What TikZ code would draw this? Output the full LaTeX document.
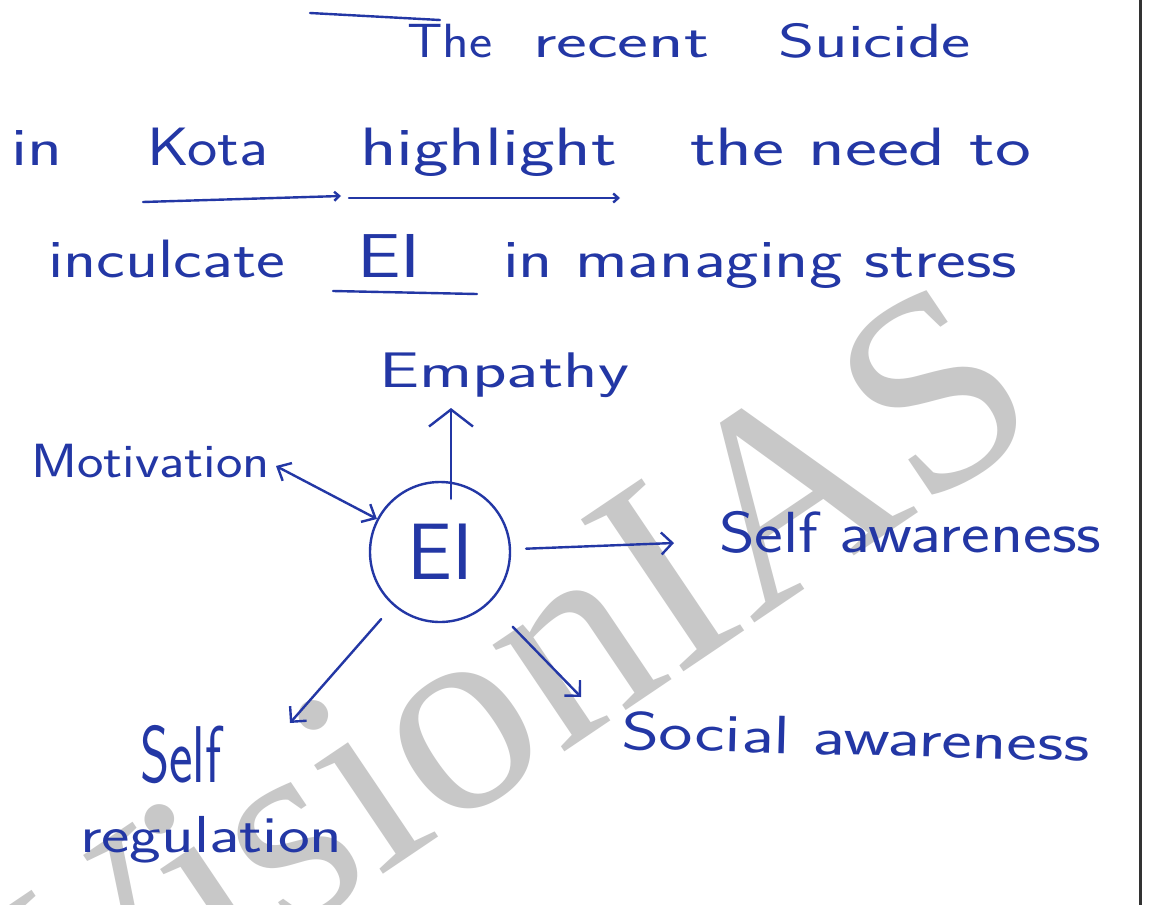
\documentclass[tikz,border=0pt]{standalone}
\usepackage{fontspec}
\usepackage{graphicx}
\usetikzlibrary{arrows.meta,calc}
\newfontfamily\wmfont{Liberation Serif}
\definecolor{ink}{RGB}{35,55,165}
\definecolor{wmgray}{RGB}{200,200,200}
\newcommand{\hw}[4]{{\fontsize{#1}{#1}\selectfont\scalebox{#2}[#3]{#4}}}
\begin{document}
\begin{tikzpicture}[x=1pt,y=-1pt,
  hand/.style={inner sep=0pt, outer sep=0pt, text=ink, font=\sffamily, anchor=base west},
  ink line/.style={draw=ink, line width=2.4pt, line cap=round},
  arr/.style={ink line, -{Straight Barb[length=11pt,width=22pt]}},
  small tip/.style={ink line, -{Straight Barb[length=5pt,width=9pt]}},
]
\fill[white] (0,0) rectangle (1149,905);
\useasboundingbox (0,0) rectangle (1149,905);

% watermark
\node[text=wmgray, font=\wmfont\fontsize{280}{280}\selectfont, rotate=34, anchor=base, inner sep=0pt] (wm) at (560,755) {VisionIAS};

% heading text
\draw[ink line] (310,13) -- (440,20);
\node[hand] (w1) at (407,57) {\hw{48}{1.15}{1}{The}};
\node[hand] (w2) at (533,57) {\hw{48}{1.53}{1}{recent}};
\node[hand] (w3) at (778,57) {\hw{48}{1.45}{1}{Suicide}};

\node[hand] (in1) at (11,165) {\hw{54}{1.34}{1}{in}};
\node[hand] (kota) at (147,165) {\hw{54}{1.19}{1}{Kota}};
\node[hand] (high) at (360,165) {\hw{54}{1.4}{1}{highlight}};
\node[hand] (need) at (690,165) {\hw{54}{1.41}{1}{the need to}};
\draw[small tip] (143,202) -- (341,196);
\draw[small tip] (349,198) -- (620,198);

\node[hand] (incul) at (48,277) {\hw{54}{1.27}{1}{inculcate}};
\node[hand] (eiword) at (357,277) {\hw{62}{1.25}{1}{EI}};
\node[hand] (manage) at (503,277) {\hw{54}{1.31}{1}{in managing stress}};
\draw[ink line] (333,291) -- (477,294);

% diagram
\node[draw=ink, line width=2.4pt, circle, minimum size=140pt, inner sep=0pt, text=ink,
      font=\sffamily\fontsize{80}{80}\selectfont] (ei) at (440,552) {EI};
\node[hand] (emp) at (379,387) {\hw{50}{1.43}{1}{Empathy}};
\node[hand] (mot) at (31,477) {\hw{48}{1.17}{1}{Motivation}};
\node[hand] (saw) at (719,552) {\hw{58}{1.18}{1}{Self awareness}};
\node[hand, rotate=-1.5] (soc) at (621,749) {\hw{54}{1.34}{1}{Social awareness}};
\node[hand] (self) at (140,782) {\hw{70}{0.8}{1.15}{Self}};
\node[hand] (reg) at (80,852) {\hw{52}{1.3}{1}{regulation}};

\coordinate (emtip) at (451,408);
\coordinate (mottip) at (276,466);
\coordinate (awtip) at (674,543);
\coordinate (satip) at (581,697);
\coordinate (srtip) at (290,723);

\draw[ink line, -{Straight Barb[length=17pt,width=44pt]}] ([xshift=11pt,yshift=-18pt]ei.north) -- (emtip);
\draw[ink line, {Straight Barb[length=11pt,width=20pt]}-{Straight Barb[length=11pt,width=20pt]}] (mottip) -- (ei);
\draw[arr, shorten <=15pt] (ei) -- (awtip);
\draw[arr, shorten <=33pt] (ei) -- (satip);
\draw[arr, shorten <=18pt] (ei) -- (srtip);

% right border
\draw[line width=3pt, black!80] (1140,0) -- (1140,905);
\end{tikzpicture}
\end{document}
